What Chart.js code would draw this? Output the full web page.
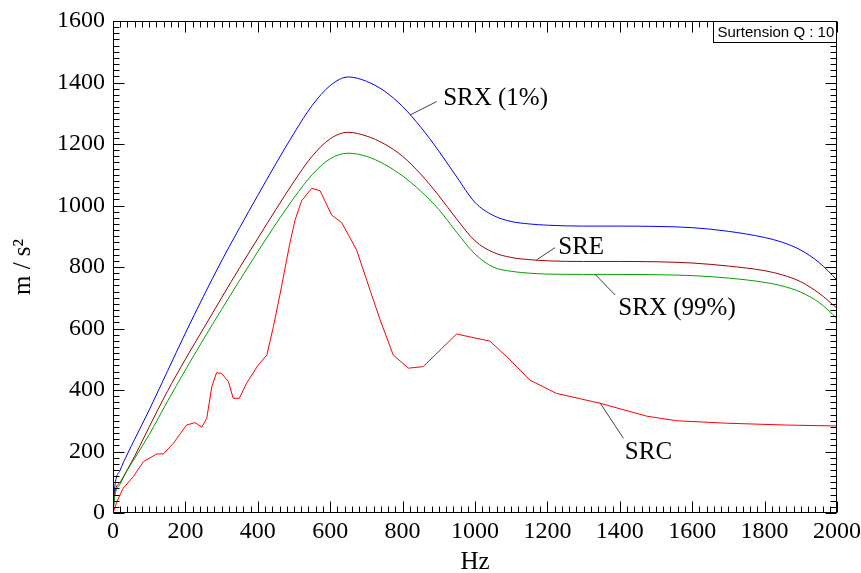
<!DOCTYPE html>
<html><head><meta charset="utf-8">
<script src="https://cdn.jsdelivr.net/npm/chart.js@4/dist/chart.umd.min.js"></script>
<style>html,body{margin:0;padding:0;background:#fff;}canvas{display:block;}</style>
</head><body>
<canvas id="c" width="861" height="573"></canvas>
<script>
// ---- data ----
const freq = [0, 5, 20, 40, 60, 100, 150, 200, 250, 300, 350, 400, 450, 500, 550, 600, 650, 700, 750, 800, 850, 900, 950, 1000, 1050, 1100, 1150, 1200, 1300, 1400, 1500, 1600, 1700, 1800, 1850, 1900, 1950, 2000];
const srx1 = [0, 85, 140, 192, 240, 335, 460, 585, 705, 820, 928, 1033, 1136, 1235, 1325, 1390, 1418, 1404, 1372, 1322, 1255, 1177, 1092, 1010, 968, 948, 940, 936, 933, 933, 932, 928, 916, 896, 880, 855, 815, 758];
const sre = [0, 65, 100, 142, 185, 280, 395, 500, 600, 700, 798, 893, 987, 1078, 1160, 1217, 1238, 1226, 1200, 1160, 1102, 1032, 955, 885, 848, 831, 824, 820, 818, 818, 817, 813, 803, 788, 774, 752, 715, 666];
const srx99 = [0, 55, 95, 140, 178, 255, 362, 465, 565, 662, 757, 850, 940, 1025, 1100, 1152, 1170, 1160, 1134, 1096, 1047, 987, 912, 842, 800, 786, 780, 777, 776, 776, 775, 772, 764, 750, 738, 718, 685, 633];
const srcFreq = [0, 10, 28, 56, 84, 121, 139, 167, 203, 227, 245, 259, 273, 286, 300, 319, 332, 349, 369, 401, 425, 443, 461, 489, 503, 521, 549, 572, 604, 632, 673, 710, 738, 774, 816, 857, 949, 1041, 1088, 1152, 1225, 1345, 1474, 1557, 1695, 1861, 2000];
const src = [0, 35, 80, 118, 167, 192, 192, 227, 286, 294, 279, 308, 411, 456, 454, 427, 373, 373, 422, 481, 514, 606, 709, 880, 953, 1015, 1056, 1048, 969, 944, 855, 725, 628, 514, 471, 476, 582, 559, 508, 432, 389, 357, 315, 300, 292, 286, 283];
const xTickValues = [0, 200, 400, 600, 800, 1000, 1200, 1400, 1600, 1800, 2000];
const yTickValues = [0, 200, 400, 600, 800, 1000, 1200, 1400, 1600];
const seriesNames = ['SRX (1%)', 'SRE', 'SRX (99%)', 'SRC'];
const xTitle = 'Hz';
const yTitle = 'm / s\u00B2';
const noteText = 'Surtension Q : 10';

const toPts = (xs, ys) => xs.map((x, i) => ({x: x, y: ys[i]}));

// label anchors in data coordinates: leader start, leader end, text anchor
const callouts = [
  {name: seriesNames[0], from: [820, 1294], to: [894, 1338], text: [912, 1327]},
  {name: seriesNames[1], from: [1170, 823], to: [1221, 863], text: [1230, 841]},
  {name: seriesNames[2], from: [1331, 777], to: [1387, 709], text: [1396, 644]},
  {name: seriesNames[3], from: [1345, 359], to: [1410, 243], text: [1414, 175]}
];

const decor = {
  id: 'decor',
  afterDraw(chart) {
    const ctx = chart.ctx, a = chart.chartArea;
    const xs = chart.scales.x, ys = chart.scales.y;
    ctx.save();
    ctx.strokeStyle = '#000'; ctx.lineWidth = 1;
    const L = Math.round(a.left) + 0.5, R = Math.round(a.right) - 0.5;
    const T = Math.round(a.top) + 0.5, B = Math.round(a.bottom) - 0.5;
    ctx.strokeRect(L, T, R - L, B - T);
    ctx.beginPath();
    for (let v = 0; v <= 2000; v += 20) {
      const p = Math.round(xs.getPixelForValue(v)) + 0.5;
      const len = (v % 200 === 0) ? 11 : 6;
      ctx.moveTo(p, B); ctx.lineTo(p, B - len);
      ctx.moveTo(p, T); ctx.lineTo(p, T + len);
    }
    for (let v = 0; v <= 1600; v += 20) {
      const p = Math.round(ys.getPixelForValue(v)) + 0.5;
      const len = (v % 200 === 0) ? 11 : 6;
      ctx.moveTo(L, p); ctx.lineTo(L + len, p);
      ctx.moveTo(R, p); ctx.lineTo(R - len, p);
    }
    ctx.stroke();
    ctx.strokeStyle = '#404040';
    ctx.fillStyle = '#000';
    ctx.font = '25px "Liberation Serif"';
    ctx.textBaseline = 'alphabetic';
    ctx.textAlign = 'left';
    callouts.forEach(c => {
      ctx.beginPath();
      ctx.moveTo(xs.getPixelForValue(c.from[0]), ys.getPixelForValue(c.from[1]));
      ctx.lineTo(xs.getPixelForValue(c.to[0]), ys.getPixelForValue(c.to[1]));
      ctx.stroke();
      ctx.fillText(c.name, xs.getPixelForValue(c.text[0]), ys.getPixelForValue(c.text[1]));
    });
    ctx.font = '15px "Liberation Sans"';
    const w = Math.ceil(ctx.measureText(noteText).width) + 6;
    const h = 21;
    const bx = R - w;
    ctx.fillStyle = '#fff';
    ctx.fillRect(bx, T, w, h);
    ctx.strokeStyle = '#000';
    ctx.strokeRect(bx, T, w, h);
    ctx.fillStyle = '#000';
    ctx.fillText(noteText, bx + 4, T + 15.5);
    ctx.restore();
  }
};

const tickFont = {family: 'Liberation Serif', size: 24};
const titleFont = {family: 'Liberation Serif', size: 25, lineHeight: 0.84};

new Chart(document.getElementById('c'), {
  type: 'line',
  data: {
    datasets: [
      {label: seriesNames[3], data: toPts(srcFreq, src), borderColor: '#ff0000', tension: 0},
      {label: seriesNames[2], data: toPts(freq, srx99), borderColor: '#00a000', cubicInterpolationMode: 'monotone'},
      {label: seriesNames[1], data: toPts(freq, sre), borderColor: '#a00000', cubicInterpolationMode: 'monotone'},
      {label: seriesNames[0], data: toPts(freq, srx1), borderColor: '#0000ff', cubicInterpolationMode: 'monotone'}
    ]
  },
  options: {
    responsive: false,
    animation: false,
    devicePixelRatio: 1,
    layout: {padding: {left: 0, right: 24, top: 21, bottom: 0}, autoPadding: false},
    elements: {point: {radius: 0}, line: {borderWidth: 1, fill: false}},
    plugins: {legend: {display: false}, tooltip: {enabled: false}},
    scales: {
      x: {
        type: 'linear', min: 0, max: 2000,
        afterBuildTicks: s => { s.ticks = xTickValues.map(v => ({value: v})); },
        afterFit: s => { s.height = 60; s.paddingRight = 0; s.paddingLeft = 0; },
        ticks: {font: tickFont, color: '#000', padding: 4, maxRotation: 0, autoSkip: false, callback: v => String(v)},
        grid: {display: false, drawTicks: false},
        border: {display: false},
        title: {display: true, text: xTitle, font: titleFont, color: '#000', padding: {top: 0, bottom: 0}}
      },
      y: {
        type: 'linear', min: 0, max: 1600,
        afterBuildTicks: s => { s.ticks = yTickValues.map(v => ({value: v})); },
        afterFit: s => { s.width = 113; s.paddingTop = 0; s.paddingBottom = 0; },
        ticks: {font: tickFont, color: '#000', padding: 8, callback: v => String(v)},
        grid: {display: false, drawTicks: false},
        border: {display: false},
        title: {display: true, text: yTitle, font: {family: 'Liberation Serif', size: 25}, color: '#000', padding: {top: 8, bottom: 0}}
      }
    }
  },
  plugins: [decor]
});
</script>
</body></html>
